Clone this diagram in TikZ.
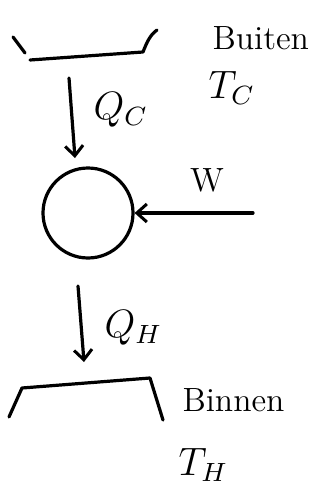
\documentclass[tikz,border=0pt]{standalone}
\usetikzlibrary{arrows.meta}
\begin{document}
\begin{tikzpicture}[x=1pt,y=-1pt,
  stroke/.style={line width=3.2pt,line cap=round,line join=round},
  flow/.style={stroke,-{Straight Barb[length=10pt,width=18pt,line width=3pt]}},
  lbl/.style={inner sep=0pt,font=\large,scale=2.8},
  big/.style={inner sep=0pt,font=\large,scale=3.3}]
\useasboundingbox[fill=white] (0,0) rectangle (321,487);
% top reservoir
\coordinate (tl1) at (13,37);
\coordinate (tl2) at (25,53);
\coordinate (ta) at (30,60);
\coordinate (tb) at (143,52);
\coordinate (tc) at (157,30);
\draw[stroke] (tl1) -- (tl2);
\draw[stroke] (ta) -- (tb) .. controls (147,42) and (150,35) .. (tc);
\node[lbl,anchor=west] (buiten) at (212,38) {Buiten};
\node[big,anchor=west] (tcl) at (208,88) {$T_C$};
% engine
\node[draw,circle,line width=3.2pt,minimum size=90pt,inner sep=0pt] (eng) at (88,213) {};
% Q_C arrow
\coordinate (qcs) at (69,78);
\coordinate (qce) at (75,158);
\draw[flow] (qcs) -- (qce);
\node[big,anchor=west] (qc) at (93,110) {$Q_C$};
% W arrow
\coordinate (ws) at (253,213);
\draw[flow] (ws) -- (eng.east);
\node[lbl,anchor=center] (w) at (207,180) {W};
% lower reservoir
\coordinate (ba) at (22,388);
\coordinate (bb) at (150,378);
\coordinate (bl) at (9,417);
\coordinate (br) at (163,420);
\draw[stroke] (bl) -- (ba) -- (bb) -- (br);
% Q_H arrow
\coordinate (qhs) at (78,286);
\coordinate (qhe) at (84,362);
\draw[flow] (qhs) -- (qhe);
\node[big,anchor=west] (qh) at (104,328) {$Q_H$};
\node[lbl,anchor=west] (binnen) at (182,400) {Binnen};
\node[big,anchor=west] (th) at (178,465) {$T_H$};
\end{tikzpicture}
\end{document}
